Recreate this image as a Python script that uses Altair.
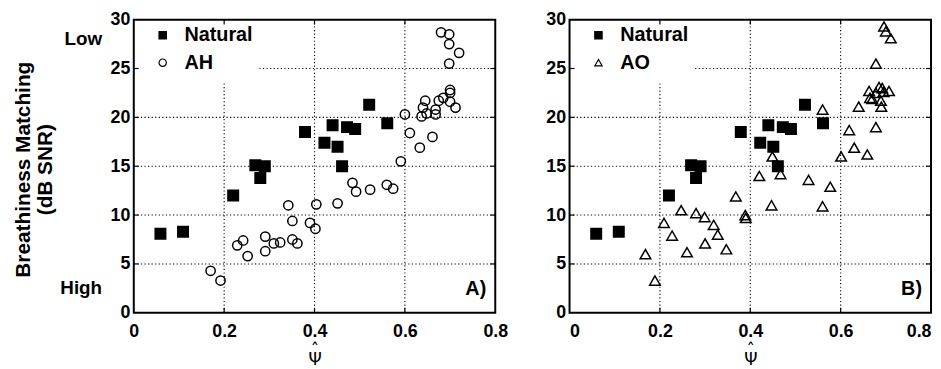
import altair as alt
import pandas as pd

# ---------------- data ----------------
natural_x = [0.059, 0.109, 0.220, 0.269, 0.290, 0.280, 0.379, 0.422, 0.440, 0.451,
             0.472, 0.490, 0.461, 0.521, 0.561]
natural_y = [8.1, 8.3, 12.0, 15.1, 15.0, 13.8, 18.5, 17.4, 19.2, 17.0,
             19.0, 18.8, 15.0, 21.3, 19.4]

ah_x = [0.170, 0.192, 0.229, 0.242, 0.252, 0.291, 0.291, 0.310, 0.324, 0.342,
        0.351, 0.351, 0.362, 0.390, 0.402, 0.404, 0.451, 0.484, 0.492, 0.523,
        0.560, 0.574, 0.591, 0.600, 0.611, 0.633, 0.661, 0.637, 0.640, 0.645,
        0.648, 0.668, 0.668, 0.675, 0.685, 0.700, 0.700, 0.700, 0.712, 0.680,
        0.698, 0.698, 0.720, 0.698]
ah_y = [4.3, 3.3, 6.9, 7.4, 5.8, 7.8, 6.3, 7.1, 7.2, 11.0,
        9.4, 7.5, 7.1, 9.2, 8.6, 11.1, 11.2, 13.3, 12.4, 12.6,
        13.1, 12.7, 15.5, 20.3, 18.4, 16.9, 18.0, 20.1, 21.0, 21.7,
        20.4, 20.3, 20.8, 21.7, 22.0, 22.8, 22.5, 21.6, 21.0, 28.7,
        28.5, 27.5, 26.6, 25.5]

ao_x = [0.168, 0.189, 0.209, 0.227, 0.247, 0.260, 0.280, 0.299, 0.300, 0.319,
        0.328, 0.347, 0.368, 0.389, 0.390, 0.420, 0.447, 0.449, 0.467, 0.529,
        0.560, 0.560, 0.577, 0.601, 0.619, 0.630, 0.640, 0.659, 0.678, 0.678,
        0.690, 0.663, 0.678, 0.692, 0.707, 0.670, 0.689, 0.665, 0.685, 0.695,
        0.696, 0.700, 0.711]
ao_y = [6.0, 3.3, 9.2, 7.9, 10.5, 6.2, 10.2, 9.8, 7.1, 9.0,
        8.0, 6.5, 11.9, 10.0, 9.7, 14.0, 11.0, 16.0, 14.2, 13.6,
        10.9, 20.8, 12.9, 16.0, 18.7, 16.9, 21.1, 16.2, 19.0, 25.5,
        21.1, 22.7, 22.5, 23.0, 22.7, 21.9, 21.7, 22.0, 23.1, 22.6,
        29.3, 28.8, 28.1]

x_ticks = [0, 0.2, 0.4, 0.6, 0.8]
y_ticks = [0, 5, 10, 15, 20, 25, 30]

# dotted grid segments (partly hidden behind the legend box)
grid_x_vals = [0.2, 0.4, 0.6]
grid_x_top = [23.6, 30, 30]
grid_y_vals = [5, 10, 15, 20, 25]
grid_y_start = [0, 0, 0, 0, 0.278]

# in-plot legend rows (series order, row level in data units)
legend_rows_y = [28.4, 25.6]
legend_symbol_x = 0.064
legend_text_x = 0.112

panel_labels = ["A)", "B)"]
level_labels = ["Low", "High"]
level_pos = [28.0, 2.5]
y_title = ["Breathiness Matching", "(dB SNR)"]
x_title = ["\u02c6", "\u03a8"]

FONT = "Liberation Sans"
W, H = 365, 296

xscale = alt.Scale(domain=[0, 0.8], nice=False, zero=False)
yscale = alt.Scale(domain=[0, 30], nice=False, zero=False)


def x_axis(flush):
    return alt.Axis(values=x_ticks, grid=False, ticks=False, domain=False,
                    labelFont=FONT, labelFontSize=18, labelFontWeight="bold",
                    labelColor="black", labelPadding=10, labelFlush=flush,
                    labelOverlap=False,
                    labelExpr="datum.value == 0 ? '0' : format(datum.value, '.1f')",
                    title=x_title, titleFont="DejaVu Sans",
                    titleFontSize=17, titleFontWeight="normal", titleColor="black",
                    titleLineHeight=9, titlePadding=2)


def y_axis(first):
    kw = dict(values=y_ticks, grid=False, ticks=False, domain=False,
              labelFont=FONT, labelFontSize=18, labelFontWeight="bold",
              labelColor="black", labelPadding=4, labelFlush=False,
              labelOverlap=False)
    if first:
        kw.update(title=y_title, titleFont=FONT, titleFontSize=21,
                  titleFontWeight="bold", titleColor="black", titleX=-122,
                  titleY=151, titleAngle=270, titleAlign="center",
                  titleBaseline="top", titleLineHeight=22)
    else:
        kw.update(title=None)
    return alt.Axis(**kw)


def make_panel(cmp_name, cmp_shape, cmp_x, cmp_y, label, first):
    X = lambda f="psi:Q": alt.X(f, scale=xscale, axis=x_axis(not first))
    Y = lambda f="snr:Q": alt.Y(f, scale=yscale, axis=y_axis(first))

    df = pd.DataFrame({
        "psi": natural_x + cmp_x,
        "snr": natural_y + cmp_y,
        "series": ["Natural"] * len(natural_x) + [cmp_name] * len(cmp_x),
    })

    gx = pd.DataFrame({"psi": grid_x_vals, "snr": [0] * len(grid_x_vals),
                       "snr2": grid_x_top})
    gy = pd.DataFrame({"snr": grid_y_vals, "psi": grid_y_start,
                       "psi2": [0.8] * len(grid_y_vals)})
    dash = dict(strokeDash=[1.2, 2.4], color="black", strokeWidth=1.1)

    grid_v = alt.Chart(gx).mark_rule(**dash).encode(
        x=X(), y=Y(), y2="snr2:Q")
    grid_h = alt.Chart(gy).mark_rule(**dash).encode(
        x=X(), x2="psi2:Q", y=Y())

    yt = pd.DataFrame({"snr": y_ticks[1:-1]})
    xt = pd.DataFrame({"psi": x_ticks[1:-1]})
    tk = dict(color="black", strokeWidth=1.2)
    ticks_l = alt.Chart(yt).mark_rule(**tk).encode(
        x=alt.value(0), x2=alt.value(5), y=Y())
    ticks_r = alt.Chart(yt).mark_rule(**tk).encode(
        x=alt.value(W - 5), x2=alt.value(W), y=Y())
    ticks_b = alt.Chart(xt).mark_rule(**tk).encode(
        x=X(), y=alt.value(H - 5), y2=alt.value(H))
    ticks_t = alt.Chart(xt).mark_rule(**tk).encode(
        x=X(), y=alt.value(0), y2=alt.value(5))

    dom = ["Natural", cmp_name]
    shape_scale = alt.Scale(domain=dom, range=["square", cmp_shape])
    fill_scale = alt.Scale(domain=dom, range=["black", "transparent"])
    pts = alt.Chart(df).mark_point(filled=True, opacity=1, stroke="black",
                                   strokeWidth=1.5).encode(
        x=X(), y=Y(),
        shape=alt.Shape("series:N", scale=shape_scale, legend=None),
        fill=alt.Fill("series:N", scale=fill_scale, legend=None),
        size=alt.Size("series:N",
                      scale=alt.Scale(domain=dom, range=[112, 88 if cmp_shape == "circle" else 115]),
                      legend=None),
    )

    # legend drawn inside the plot, like the original
    ldf = pd.DataFrame({"series": dom, "snr": legend_rows_y,
                        "psi": [legend_symbol_x] * 2,
                        "psi_t": [legend_text_x] * 2})
    leg_sym = alt.Chart(ldf).mark_point(filled=True, opacity=1, stroke="black",
                                        strokeWidth=1.2, size=55).encode(
        x=X(), y=Y(),
        shape=alt.Shape("series:N", scale=shape_scale, legend=None),
        fill=alt.Fill("series:N", scale=fill_scale, legend=None),
    )
    leg_txt = alt.Chart(ldf).mark_text(
        align="left", baseline="middle", font=FONT, fontSize=20,
        fontWeight="bold", color="black").encode(
        x=X("psi_t:Q"), y=Y(), text="series:N")

    ann = alt.Chart(pd.DataFrame({"psi": [0.78], "snr": [1.85], "txt": [label]})).mark_text(
        align="right", baseline="alphabetic", font=FONT, fontSize=20,
        fontWeight="bold", color="black").encode(x=X(), y=Y(), text="txt:N")

    layers = [grid_v, grid_h, ticks_l, ticks_r, ticks_b, ticks_t, pts,
              leg_sym, leg_txt, ann]

    if first:
        lv = alt.Chart(pd.DataFrame({"snr": level_pos, "txt": level_labels})).mark_text(
            align="right", baseline="middle", font=FONT, fontSize=19,
            fontWeight="bold", color="black").encode(
            x=alt.value(-32), y=Y(), text="txt:N")
        layers.append(lv)

    return alt.layer(*layers).properties(width=W, height=H)


left = make_panel("AH", "circle", ah_x, ah_y, panel_labels[0], True)
right = make_panel("AO", "triangle-up", ao_x, ao_y, panel_labels[1], False)

chart = alt.hconcat(left, right, spacing=35).resolve_scale(
    shape="independent", fill="independent", size="independent"
).properties(
    padding={"left": 4, "top": 0, "right": 0, "bottom": 0},
    background="white",
).configure_view(stroke="black", strokeWidth=2)

chart.save("out.html", embed_options={"renderer": "svg", "actions": False})
